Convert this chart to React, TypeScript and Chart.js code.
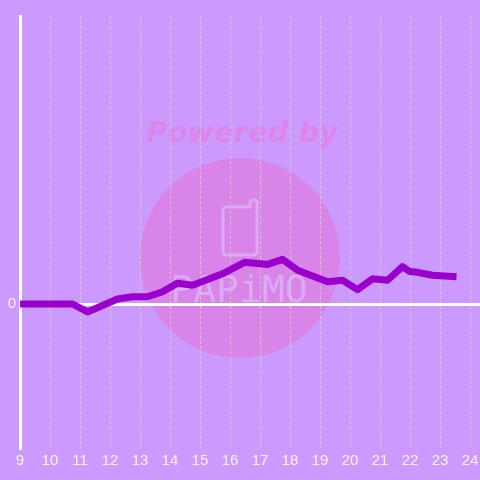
import React, { useEffect, useRef } from "react";
import { Chart, registerables } from "chart.js";

Chart.register(...registerables);

// Data (hour of day, value)
const hours: number[] = [9.0, 10.75, 11.25, 12.25, 12.75, 13.25, 13.75, 14.25, 14.75, 15.75, 16.5, 17.25, 17.75, 18.25, 19.25, 19.75, 20.25, 20.75, 21.25, 21.75, 22.0, 22.25, 22.75, 23.55];
const values: number[] = [0, 0, -0.055, 0.035, 0.05, 0.05, 0.085, 0.145, 0.13, 0.21, 0.29, 0.275, 0.31, 0.235, 0.155, 0.165, 0.1, 0.175, 0.165, 0.26, 0.225, 0.22, 0.2, 0.19];
const xTickLabels: number[] = [9, 10, 11, 12, 13, 14, 15, 16, 17, 18, 19, 20, 21, 22, 23, 24];
const yTickValues: number[] = [0];

const BG = "#cc99ff";

const watermarkPlugin = {
  id: "bgWatermark",
  beforeDraw(chart: any) {
    const ctx = chart.ctx as CanvasRenderingContext2D;
    ctx.save();
    ctx.fillStyle = BG;
    ctx.fillRect(0, 0, chart.width, chart.height);
    // circle
    ctx.fillStyle = "#d884e8";
    ctx.beginPath();
    ctx.arc(240, 258, 100, 0, Math.PI * 2);
    ctx.fill();
    // Powered by
    ctx.fillStyle = "#dc86ea";
    ctx.font = 'italic bold 29px "DejaVu Sans"';
    ctx.textAlign = "center";
    ctx.textBaseline = "alphabetic";
    ctx.fillText("Powered by", 242, 142);
    // phone icon
    ctx.strokeStyle = "#dcaaf2";
    ctx.lineWidth = 3;
    ctx.beginPath();
    ctx.moveTo(227, 207);
    ctx.lineTo(250, 207);
    ctx.lineTo(250, 203);
    ctx.quadraticCurveTo(250, 200, 253, 200);
    ctx.lineTo(254, 200);
    ctx.quadraticCurveTo(257, 200, 257, 203);
    ctx.lineTo(257, 251);
    ctx.quadraticCurveTo(257, 255, 253, 255);
    ctx.lineTo(227, 255);
    ctx.quadraticCurveTo(223, 255, 223, 251);
    ctx.lineTo(223, 211);
    ctx.quadraticCurveTo(223, 207, 227, 207);
    ctx.closePath();
    ctx.stroke();
    // logo text
    ctx.fillStyle = "#dcaaf2";
    ctx.font = '38px "DejaVu Sans Mono"';
    ctx.fillText("PAPiMO", 239, 302);
    ctx.restore();
  },
};

export default function App() {
  const ref = useRef<HTMLCanvasElement | null>(null);

  useEffect(() => {
    document.body.style.margin = "0";
    const canvas = ref.current;
    if (!canvas) return;
    const points = hours.map((h, i) => ({ x: h, y: values[i] }));
    const chart = new Chart(canvas, {
      type: "line",
      data: {
        datasets: [
          {
            data: points,
            borderColor: "#9900cc",
            borderWidth: 7,
            borderJoinStyle: "round",
            pointRadius: 0,
            tension: 0,
            fill: false,
          },
        ],
      },
      options: {
        animation: false,
        responsive: false,
        devicePixelRatio: 1,
        layout: { padding: { top: 16, right: 0, left: 0, bottom: 0 } },
        plugins: { legend: { display: false }, tooltip: { enabled: false } },
        scales: {
          x: {
            type: "linear",
            min: 9,
            max: 24.333,
            afterBuildTicks: (scale: any) => {
              scale.ticks = xTickLabels.map((v) => ({ value: v }));
            },
            afterFit: (scale: any) => {
              scale.height = 32;
              scale.paddingLeft = 0;
              scale.paddingRight = 0;
            },
            ticks: {
              color: "rgba(255,255,255,0.88)",
              font: { family: '"Liberation Sans", Arial', size: 15 },
              padding: 4,
              maxRotation: 0,
              autoSkip: false,
            },
            grid: {
              drawTicks: false,
              lineWidth: 1,
              color: (c: any) => (c.tick && c.tick.value === 9 ? "rgba(0,0,0,0)" : "rgba(205,215,175,0.8)"),
            },
            border: { display: false, dash: [3, 2] },
          },
          y: {
            type: "linear",
            min: -1,
            max: 2,
            afterBuildTicks: (scale: any) => {
              scale.ticks = yTickValues.map((v) => ({ value: v }));
            },
            afterFit: (scale: any) => {
              scale.width = 20;
            },
            ticks: {
              color: "rgba(255,255,255,0.88)",
              font: { family: '"Liberation Sans", Arial', size: 15 },
              padding: 4,
            },
            grid: {
              drawTicks: false,
              lineWidth: 3,
              color: (c: any) => (c.tick && c.tick.value === 0 ? "#ffffff" : "rgba(0,0,0,0)"),
            },
            border: { display: true, color: "#ffffff", width: 3 },
          },
        },
      },
      plugins: [watermarkPlugin],
    } as any);
    return () => chart.destroy();
  }, []);

  return (
    <div style={{ width: 480, height: 480 }}>
      <canvas ref={ref} width={480} height={480} style={{ display: "block" }} />
    </div>
  );
}
